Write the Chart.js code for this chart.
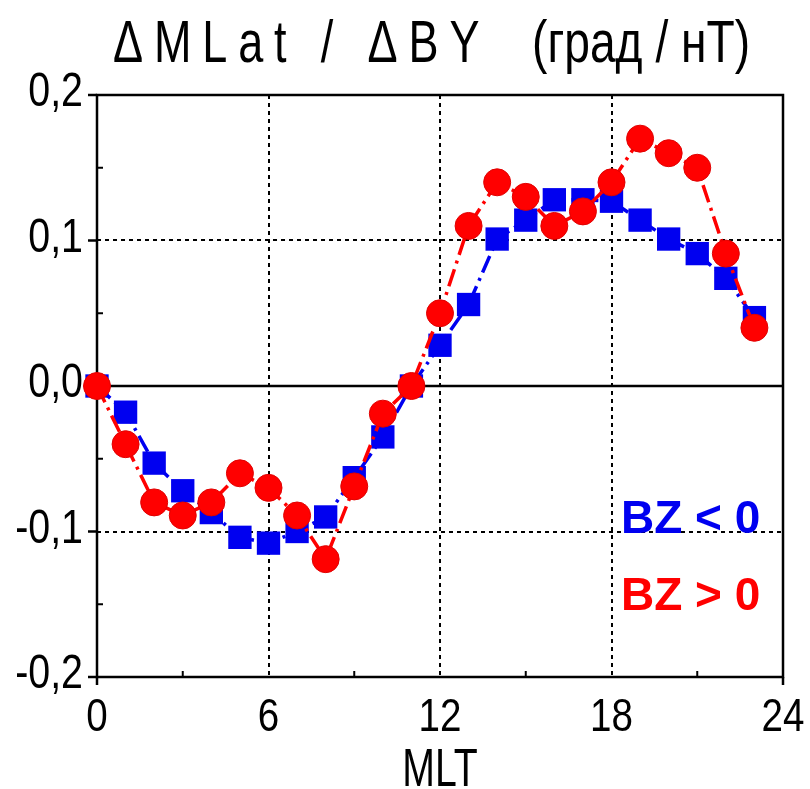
<!DOCTYPE html>
<html>
<head>
<meta charset="utf-8">
<script src="https://cdn.jsdelivr.net/npm/chart.js@4.4.1/dist/chart.umd.min.js"></script>
<style>
html,body{margin:0;padding:0;background:#fff;}
#wrap{width:810px;height:789px;}
</style>
</head>
<body>
<div id="wrap"><canvas id="c" width="810" height="789"></canvas></div>
<script>
const mlt = [0,1,2,3,4,5,6,7,8,9,10,11,12,13,14,15,16,17,18,19,20,21,22,23];
const bzNeg = [0, -0.018, -0.053, -0.072, -0.087, -0.104, -0.108, -0.100, -0.090, -0.063, -0.035, 0, 0.028, 0.056, 0.101, 0.114, 0.128, 0.128, 0.127, 0.114, 0.101, 0.091, 0.074, 0.047];
const bzPos = [0, -0.040, -0.080, -0.089, -0.080, -0.060, -0.070, -0.089, -0.119, -0.069, -0.019, 0, 0.050, 0.110, 0.140, 0.130, 0.110, 0.120, 0.140, 0.170, 0.160, 0.150, 0.091, 0.040];
const xTicks = [0, 6, 12, 18, 24];
const xMinor = [3, 9, 15, 21];
const yTicks = [0.2, 0.1, 0, -0.1, -0.2];
const yMinor = [0.15, 0.05, -0.05, -0.15];
const gridX = [6, 12, 18];
const gridY = [0.1, -0.1];
const titleLeft = 'ΔMLat / ΔBY';
const titleRight = '(град / нТ)';
const xTitle = 'MLT';
const legendNeg = 'BZ < 0';
const legendPos = 'BZ > 0';

const SANS = '"Liberation Sans", Arial, sans-serif';
const BLUE = '#0000f0';
const RED = '#ff0000';

function narrowText(ctx, text, x, y, size, sx, align, spacing) {
  ctx.save();
  ctx.font = size + 'px ' + SANS;
  ctx.letterSpacing = (spacing || 0) + 'px';
  ctx.textAlign = align;
  ctx.textBaseline = 'alphabetic';
  ctx.translate(x, y);
  ctx.scale(sx, 1);
  ctx.fillText(text, 0, 0);
  ctx.restore();
}

const decor = {
  id: 'decor',
  beforeDatasetsDraw(chart) {
    const {ctx, chartArea: a, scales: {x, y}} = chart;
    ctx.save();
    ctx.strokeStyle = '#000';
    ctx.lineWidth = 2;
    ctx.setLineDash([4, 4]);
    gridX.forEach(v => {
      const px = Math.round(x.getPixelForValue(v));
      ctx.beginPath(); ctx.moveTo(px, a.top); ctx.lineTo(px, a.bottom); ctx.stroke();
    });
    gridY.forEach(v => {
      const py = Math.round(y.getPixelForValue(v));
      ctx.beginPath(); ctx.moveTo(a.left, py); ctx.lineTo(a.right, py); ctx.stroke();
    });
    ctx.setLineDash([]);
    ctx.lineWidth = 2.5;
    const p0 = y.getPixelForValue(0);
    ctx.beginPath(); ctx.moveTo(a.left, p0); ctx.lineTo(a.right, p0); ctx.stroke();
    ctx.strokeRect(a.left, a.top, a.right - a.left, a.bottom - a.top);
    yTicks.forEach(v => {
      const py = y.getPixelForValue(v);
      ctx.beginPath(); ctx.moveTo(a.left - 9, py); ctx.lineTo(a.left, py); ctx.stroke();
    });
    ctx.lineWidth = 2;
    yMinor.forEach(v => {
      const py = y.getPixelForValue(v);
      ctx.beginPath(); ctx.moveTo(a.left, py); ctx.lineTo(a.left + 6, py); ctx.stroke();
    });
    ctx.lineWidth = 2.5;
    [xTicks[0], xTicks[xTicks.length - 1]].forEach(v => {
      const px = x.getPixelForValue(v);
      ctx.beginPath(); ctx.moveTo(px, a.bottom); ctx.lineTo(px, a.bottom + 8); ctx.stroke();
    });
    ctx.lineWidth = 2;
    xMinor.forEach(v => {
      const px = x.getPixelForValue(v);
      ctx.beginPath(); ctx.moveTo(px, a.bottom); ctx.lineTo(px, a.bottom - 6); ctx.stroke();
    });
    // tick labels
    ctx.fillStyle = '#000';
    yTicks.forEach(v => {
      const py = y.getPixelForValue(v);
      narrowText(ctx, v.toFixed(1).replace('.', ','), 83, py + 11, 48, 0.82, 'right');
    });
    xTicks.forEach(v => {
      const px = x.getPixelForValue(v);
      narrowText(ctx, String(v), px, a.bottom + 54, 47, 0.82, 'center');
    });
    narrowText(ctx, xTitle, (a.left + a.right) / 2, 786, 53, 0.74, 'center');
    ctx.restore();
  },
  afterDraw(chart) {
    const {ctx} = chart;
    ctx.save();
    ctx.fillStyle = '#000';
    narrowText(ctx, titleLeft, 113, 62, 60, 0.75, 'left', 14.5);
    narrowText(ctx, titleRight, 532, 62, 60, 0.77, 'left', 0);
    ctx.font = 'bold 46px ' + SANS;
    ctx.textAlign = 'left';
    ctx.textBaseline = 'alphabetic';
    ctx.fillStyle = BLUE;
    ctx.fillText(legendNeg, 621, 533);
    ctx.fillStyle = RED;
    ctx.fillText(legendPos, 621, 610);
    ctx.restore();
  }
};

new Chart(document.getElementById('c'), {
  type: 'line',
  data: {
    datasets: [
      {
        label: legendPos,
        data: mlt.map((m, i) => ({x: m, y: bzPos[i]})),
        borderColor: RED,
        backgroundColor: RED,
        borderWidth: 3.5,
        borderDash: [18, 6, 3, 6],
        pointStyle: 'circle',
        pointRadius: 13.5,
        pointBorderWidth: 1,
        pointBorderColor: '#e00000',
        pointBackgroundColor: RED,
        tension: 0,
        clip: false,
        order: 0
      },
      {
        label: legendNeg,
        data: mlt.map((m, i) => ({x: m, y: bzNeg[i]})),
        borderColor: BLUE,
        backgroundColor: BLUE,
        borderWidth: 3.5,
        borderDash: [18, 6, 3, 6],
        pointStyle: 'rect',
        pointRadius: 16.5,
        pointBorderWidth: 0,
        pointBackgroundColor: BLUE,
        tension: 0,
        clip: false,
        order: 1
      }
    ]
  },
  options: {
    responsive: false,
    animation: false,
    devicePixelRatio: 1,
    layout: {padding: {top: 95, right: 27, left: 0, bottom: 0}},
    plugins: {legend: {display: false}, tooltip: {enabled: false}, title: {display: false}},
    scales: {
      x: {
        type: 'linear', min: 0, max: 24,
        afterBuildTicks(s) { s.ticks = xTicks.map(v => ({value: v})); },
        ticks: {display: false},
        grid: {display: false, drawTicks: false},
        border: {display: false},
        afterFit(s) { s.height = 112; }
      },
      y: {
        type: 'linear', min: -0.2, max: 0.2,
        afterBuildTicks(s) { s.ticks = yTicks.map(v => ({value: v})); },
        ticks: {display: false},
        grid: {display: false, drawTicks: false},
        border: {display: false},
        afterFit(s) { s.width = 97; }
      }
    }
  },
  plugins: [decor]
});
</script>
</body>
</html>
